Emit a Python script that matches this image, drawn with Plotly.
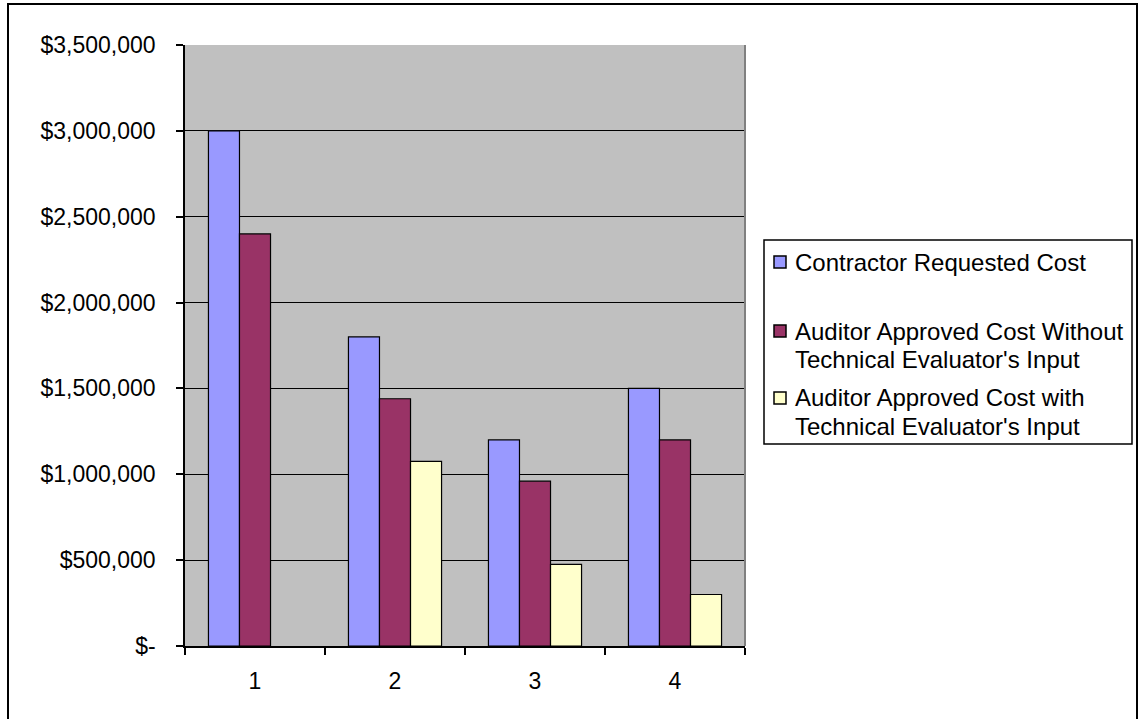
import plotly.graph_objects as go

# Categories and series values
categories = ["1", "2", "3", "4"]
series_names = [
    "Contractor Requested Cost",
    "Auditor Approved Cost Without Technical Evaluator's Input",
    "Auditor Approved Cost with Technical Evaluator's Input",
]
legend_lines = [
    ["Contractor Requested Cost"],
    ["Auditor Approved Cost Without", "Technical Evaluator's Input"],
    ["Auditor Approved Cost with", "Technical Evaluator's Input"],
]
contractor_requested = [3000000, 1800000, 1200000, 1500000]
approved_without_tech = [2400000, 1440000, 960000, 1200000]
approved_with_tech = [None, 1075000, 475000, 300000]
series_values = [contractor_requested, approved_without_tech, approved_with_tech]
series_colors = ["#9999FF", "#993366", "#FFFFCC"]

y_ticks = [0, 500000, 1000000, 1500000, 2000000, 2500000, 3000000, 3500000]
y_ticktext = ["$-" if v == 0 else "${:,.0f}".format(v) for v in y_ticks]

FONT = "Liberation Sans, Arial, sans-serif"
W, H = 1140, 719
PL, PR, PT, PB = 185, 745, 45, 646  # plot area edges in pixels


def px_x(px):
    return (px - PL) / (PR - PL)


def px_y(py):
    return (PB - py) / (PB - PT)


fig = go.Figure()
for name, vals, col in zip(series_names, series_values, series_colors):
    fig.add_trace(go.Bar(
        x=categories, y=vals, name=name,
        marker=dict(color=col, line=dict(color="black", width=1.2)),
        showlegend=False,
    ))

shapes = []
annotations = []

# Outer chart border
shapes.append(dict(type="rect", xref="paper", yref="paper",
                   x0=px_x(8), x1=px_x(1137), y0=px_y(730), y1=px_y(4),
                   line=dict(color="black", width=2), layer="above"))
# Plot area frame, right edge in grey
shapes.append(dict(type="line", xref="paper", yref="paper",
                   x0=1, x1=1, y0=0, y1=1,
                   line=dict(color="#808080", width=2), layer="above"))

# Legend box
lx0, lx1, ly0, ly1 = 764, 1132, 240, 444
shapes.append(dict(type="rect", xref="paper", yref="paper",
                   x0=px_x(lx0), x1=px_x(lx1), y0=px_y(ly1), y1=px_y(ly0),
                   line=dict(color="black", width=1.5), fillcolor="white",
                   layer="above"))
row_centers = [262, 331, 398]
line_step = 28
for lines, col, yc in zip(legend_lines, series_colors, row_centers):
    shapes.append(dict(type="rect", xref="paper", yref="paper",
                       x0=px_x(774), x1=px_x(786), y0=px_y(yc + 6), y1=px_y(yc - 6),
                       line=dict(color="black", width=1.5), fillcolor=col,
                       layer="above"))
    for i, txt in enumerate(lines):
        annotations.append(dict(
            text=txt, xref="paper", yref="paper",
            x=px_x(793), y=px_y(yc + i * line_step),
            xanchor="left", yanchor="middle", showarrow=False,
            font=dict(family=FONT, size=24, color="black"),
        ))

fig.update_layout(
    width=W, height=H,
    margin=dict(l=PL, r=W - PR, t=PT, b=H - PB, pad=0),
    paper_bgcolor="white",
    plot_bgcolor="#C0C0C0",
    barmode="group",
    bargap=0.335,
    bargroupgap=0,
    font=dict(family=FONT, size=23, color="black"),
    shapes=shapes,
    annotations=annotations,
    showlegend=False,
)
fig.update_yaxes(
    range=[0, 3500000],
    tickvals=y_ticks, ticktext=y_ticktext,
    showgrid=True, gridcolor="black", gridwidth=1,
    showline=True, linecolor="black", linewidth=1.5,
    ticks="outside", ticklen=7, tickcolor="black", tickwidth=1.5,
    ticklabelstandoff=16,
    zeroline=False,
    tickfont=dict(family=FONT, size=23, color="black"),
    fixedrange=True,
)
fig.update_xaxes(
    type="category",
    showline=True, linecolor="black", linewidth=1.5,
    ticks="outside", ticklen=7, tickcolor="black", tickwidth=1.5,
    tickson="boundaries",
    ticklabelstandoff=14,
    showgrid=False,
    tickfont=dict(family=FONT, size=23, color="black"),
    fixedrange=True,
)

fig.write_html("out.html")
